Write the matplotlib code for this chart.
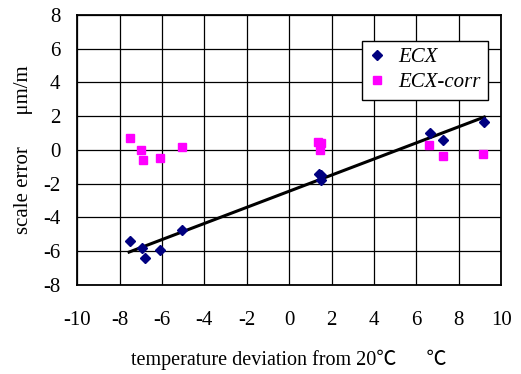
import numpy as np
import matplotlib
matplotlib.use("Agg")
import matplotlib.pyplot as plt

# ── data ──────────────────────────────────────────────────────────────────────
ecx_x = [-7.5, -6.95, -6.8, -6.1, -5.05, 1.4, 1.5, 1.5, 6.65, 7.25, 9.2]
ecx_y = [-5.4, -5.8, -6.4, -5.95, -4.75, -1.4, -1.5, -1.8, 1.0, 0.6, 1.65]

corr_x = [-7.5, -7.0, -6.9, -6.1, -5.05, 1.35, 1.5, 1.45, 6.6, 7.25, 9.15]
corr_y = [0.7, 0.0, -0.6, -0.5, 0.2, 0.45, 0.4, 0.0, 0.3, -0.35, -0.25]

trend_x = [-7.55, 9.2]
trend_y = [-6.05, 1.95]

x_ticks = np.arange(-10, 11, 2)
y_ticks = np.arange(-8, 9, 2)

SERIF = ["Liberation Serif", "Noto Sans CJK SC", "DejaVu Sans"]
plt.rcParams["font.family"] = SERIF
plt.rcParams["axes.unicode_minus"] = False

fig = plt.figure(figsize=(5.21, 3.74), dpi=100)
ax = fig.add_axes([0.148, 0.238, 0.814, 0.722])

ax.plot(trend_x, trend_y, color="black", lw=2.2, zorder=3)
ax.plot(ecx_x, ecx_y, ls="none", marker="D", ms=5.5, color="#000080",
        mec="#000080", label="ECX", zorder=4)
ax.plot(corr_x, corr_y, ls="none", marker="s", ms=6, color="#FF00FF",
        mec="#FF00FF", label="ECX-corr", zorder=4)

ax.set_xlim(-10, 10)
ax.set_ylim(-8, 8)
ax.set_xticks(x_ticks)
ax.set_yticks(y_ticks)
ax.grid(True, color="black", lw=0.9)
ax.set_axisbelow(True)
ax.tick_params(length=0, labelsize=15)
ax.tick_params(axis="x", pad=19)
ax.tick_params(axis="y", pad=12)
for s in ax.spines.values():
    s.set_linewidth(1.3)

ax.set_xlabel("temperature deviation from 20\u2103      \u2103", fontsize=14.5,
              labelpad=14)
ax.set_ylabel("scale error      \u03bcm/m", fontsize=15, labelpad=7)

leg = ax.legend(loc="upper right", bbox_to_anchor=(0.968, 0.905),
                prop={"family": SERIF, "style": "italic", "size": 15},
                frameon=True, fancybox=False, edgecolor="black",
                framealpha=1, handlelength=0.8, handletextpad=0.6,
                borderpad=0.35, labelspacing=0.25, borderaxespad=0)
leg.get_frame().set_linewidth(1.0)

fig.savefig("out.png", dpi=100)
